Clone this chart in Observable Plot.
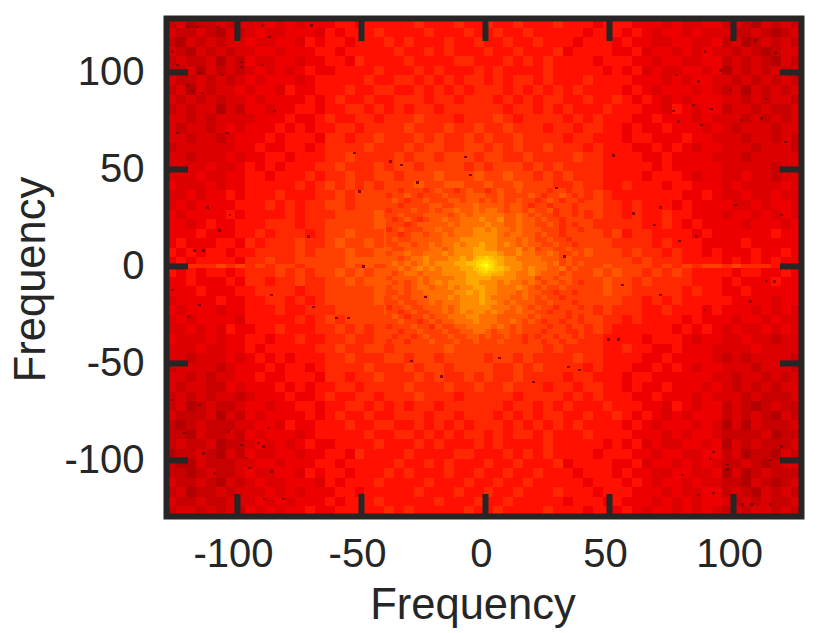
<!DOCTYPE html>
<html><head><meta charset="utf-8">
<script src="https://cdn.jsdelivr.net/npm/d3@7"></script>
<script src="https://cdn.jsdelivr.net/npm/@observablehq/plot@0.6"></script>
<style>html,body{margin:0;padding:0;background:#fff}svg{display:block}</style>
</head><body><div id="c"></div>
<script>
// spectrum levels, hex digit per block, top row first
const gridRows = [
"56455656 66767677 78878888 89888988 98898889 88878887 77676677 56546565",
"65565465 67667776 87888988 88988898 89889888 88788878 76776766 65565456",
"54656566 76677687 88788898 98889889 88988988 87888787 76677667 56456565",
"65465656 67767778 87888889 88989888 98898889 78888778 67767676 65654566",
"56556465 76677677 88798888 98888998 88989898 88878887 76776677 56565465",
"55646565 67676787 78888988 89898889 89888898 88887878 67667767 46565656",
"65565656 76777678 88889889 98989899 89899898 88988887 77676776 65656565",
"56465667 67768778 88988998 89898989 99898989 89888878 76777676 56465656",
"65656566 76777787 89889889 99899899 98989899 88988987 87676777 66565665",
"56566465 77677887 88998989 89989999 99899898 98889888 77687677 56656556",
"66565666 67778778 98899899 9a999899 9a989999 89898887 78777676 66565656",
"65665676 77787878 89989999 a999a99a 99a99989 98998878 77877767 65666566",
"66566567 77878887 99899a99 9a9a99a9 a99a9999 89988878 87778776 66566565",
"56666667 78778878 9999a999 a9aa99aa 9a9a99a9 99898887 78787677 66656665",
"66566676 77887888 99a9999a 9aa9aaa9 aa99a999 9a998888 77877776 66566666",
"66667667 87878889 9a999a9a a9aaaa9a 9aaa9a9a 99998888 87877777 66666566",
"66676677 88788898 99a99aa9 aaabaaab aabaa9a9 a9998888 78887677 66766566",
"76667677 88888989 a9a9a9aa abaabbaa baabaaa9 9a998898 88788777 67666676",
"66767787 88898889 9a9aaaaa aabbabbb abbaabaa 9a9a9888 88887787 66766766",
"67677778 88989899 aa9aaaab abbbbbab bbbabaaa a9aa9989 88878777 76676776",
"76777787 88889899 9aaaabab bbbbcbbb bcbbbaaa aa9a9989 88988777 67767676",
"77678778 88999899 aaaaabbb abbcbccb bcbcbbaa aaa99999 88987877 77677767",
"77787778 89899989 aabaaabb bbcbccbc cbccbbab aaaa9a89 98888787 77777877",
"78777887 98999a99 abaababb bccbcccd ccbccbbb aaaaa999 98988877 77877777",
"87878878 89999a9a aabaabbc bcccccdd cdccccbb babaaa9a 99898878 77787787",
"78788887 99a99aaa aabbbbbc ccccddde edccccbc bbaaaaa9 a9998888 78787877",
"87878878 999a9a9a abababbc cccdddde edddcccb bbababaa 9a9a9888 87887787",
"77877787 99899a99 aababbbc bcccccdd ddcccccb bbaabaa9 a9999888 78777877",
"77787778 89999899 aaaaabbb bccbccbc ccbcbcbb baaabaa9 99998988 77877777",
"67777877 88998989 aaaaabab bbbcbccb cbbcbbab abaaaa99 89898888 87777677",
"76777677 88898899 9aaaaabb bbbbbcbb bbbbbbaa aaa9a999 88988878 77767676",
"67677776 88888989 a9aaaaab abbbbbbb bbbabaaa a9aa9989 88887877 76776766",
"66767687 78898889 9a9a9aaa aabbabba babbaaaa 9a9a9888 88878787 67667676",
"76667677 88788988 99a99aaa aabaabba aabaa9a9 a9998888 78887677 66766566",
"66676677 87888889 9a99aa9a aaaabaaa aaaaaa9a 99998898 87787776 66676666",
"66566676 78787888 99a999aa 9aa9aaaa 9aa9a999 9a998888 77877776 56566665",
"56666567 77878878 9999a999 a9aa9aaa a99a9a99 99898887 78787677 66656665",
"66565667 78778887 99899a99 9a9a99a9 a99a9999 89988878 87777776 65665656",
"65665576 77787878 89989999 a999a99a 99a99989 98998878 77877767 65656566",
"56565665 67778778 98899899 9a999899 99989999 89898887 78777676 66565556",
"56456556 77677887 88998989 89989999 99899898 98889888 77687677 56545655",
"65556465 76777787 89889889 99899899 98989899 88988987 87676777 56565465",
"54565556 67768778 88988998 89898989 99898989 89888878 76777676 46465556",
"55465565 76777678 88889889 98989899 89899898 88988887 77676776 55556455",
"56556455 67676787 78888988 89898889 89888898 88887878 67667767 46565556",
"45565465 76677677 88798888 98888998 88989898 88878887 76776677 56455465",
"54465556 67767778 87888889 88989888 98898889 78888778 67767676 55654566",
"55456556 76677687 88788898 98889889 88988988 87888787 76677667 46456555",
"65565465 67667776 87888988 88988898 89889888 88788878 76776766 55465456",
"56455656 66767677 78878888 89888988 98898889 88878887 77676677 56546565",
"65565566 67676777 87888988 88898889 88988888 78887877 76767677 65656556",
"56656565 76767787 78888898 98888898 89888898 88788787 67767676 56566565"
];
// finer blocks for the central part of the spectrum, top row first
const midRows = [
"aa9aaa9a baa9abaa 9abaabaa aa9aa9aa",
"9aaba9aa abaaabbb aabaaaab a9aaba9a",
"aba9aaba aabbabba babaabaa 9aba9aa9",
"aa9aaaab baabbbcb bbbabba9 aa9aaa9a",
"9aaabaab abbcbbcb ccbabbab aab9aa9a",
"aabaaabb bbabcbcc cccbbcba baa9aa9a",
"a9aba9ab bcbbcccd ccdbbcbb abaa9aaa",
"aaa9abbb bbcbcccc dccbbcbb aaba9a9a",
"9abaaabb cbbcccdd cdccbcbb baaa9aa9",
"aa9abbab bcbcccdd ddcbccbb abaa9aaa",
"abaabbbb bcccdddd ddcccbcb aabaa9aa",
"aabbabbc bccdcdde ddcdcbcb baabaa9a",
"baabbbbc cbcdddee ddcccdbc abbaabaa",
"abbcbbcc cdcdddee eedccdcc bbcbaaba",
"bbabccdc ccddedef eeeddccc cbbbabaa",
"bcbcbcdc dddeefgh ffedddcc ccbcabab",
"bbcbcdcd cdddeefg hgfeddcd ccbbcaba",
"babccbcc cddddeef feeddccd cbbbabaa",
"abbbbcbc cccddeee eddddccc abbabbaa",
"bababcbc dcdddeed ddcdccbc babbaba9",
"abbabccb ccdcddee ddcccdcb abaabaaa",
"aababbcc cccddede ddcccbcb baa9aa9a",
"abaabbbc ccdcddde dcccbbcb abaa9aaa",
"aabaabbc bcccddde ddcbcbbb aabaaa9a",
"9aabaabb bcbcdddd dcccbcba baa9aaa9",
"aa9abaab bcbcdcdd cdcbbcbb aa9aa9aa",
"aba9aaba bbcccddc ccbbbbba baaaa9a9",
"aabaa9ab abbcccdc ccbbcbab a9aa9aa9",
"9aaabaa9 baabbccc cbcbabaa aa9aa9aa",
"aa9aabaa abaabbcc babbabaa a9aaa99a",
"a9aa9aba aabaabba baabaa9a 9aa9aa9a",
"9aa9aaab aaabaaba aabaaa9a a9aa9aa9"
];
// brightest blocks at the origin, top row first
const coreRows = [
[14,15,15,15,16,15,15,14],
[15,15,16,16,16,16,15,15],
[15,16,16,17,17,16,16,15],
[15,16,17,18,19,17,16,15],
[15,16,16,17,18,17,16,15],
[15,15,16,16,17,16,16,15],
[14,15,15,16,16,15,15,15],
[14,14,15,15,15,15,14,14]
];
// thin bright line along zero vertical frequency, one level per block
const streak = "8 8 9 9 9 a 9 a 9 a 9 a a 9 a a a a b a b a a b b b b c c c c d d c c c c b b a b b a a b a a a a 9 a 9 a 9 a a 9 a 9 9 9 8 8 8".split(" ");
// dark specks seen in the picture, frequency coordinates
const speckX = [-120,-116,-108,-124,-126,-115,-106,-98,-98,-89.5,-85,-120,-104,-124,-118,-114,-87,-89.5,-70,
  119.6,91,97.6,97.6,79.7,115,86,92,104,115,107.5,92,105.5,
  -52.8,-38,-33.6,-50.4,-27.4,-8,-6,51.8,29,-49,-60,-55,-24,49.7,53.7,38,33.6,-17.5,-29.6,19.5,6,32,55.6,59.8,
  108.9,94.8,86,98.8,113.6,91.4,84,75.9,78,111.6,121,87.4,103.5,77.3,88.7,117,
  -87.3,-91.4,-98,-113.6,-121,-86,-94.8,-109,-89.4,-81.4,-96,-88.7,-103.5,-126,-115,
  -117.3,-113.6,-71.3,-107,-126,-86,-69.3,-112,-102.8,-115,-119.6,
  70.8,85.3,68.5,116.9,113.6,70.8,106.9,100.8,88.7,78.4,119.6];
const speckY = [123.4,123,123,103.6,110.5,99.5,98.5,105,102.7,103.6,80,93,68.6,68.6,90,89,118,124,124,
  -93,-99.6,-102.6,-105,-107.7,-100,-118,-117,-123,-123,-123,-96,-98,
  58.2,53.8,52,38.3,43,56,47,57,40,-0.3,-27,-27,-16,-38,-38,-53.6,-52,-57,-49,-60,-47.5,4.8,-10,27,
  116.2,100.7,95,90.7,86,81,83,80,74.4,76,64,72.7,75.3,98.4,110.5,109.6,
  -83.7,-91.4,-92.2,-96.6,-86,-106,-104.3,-107,-93,-120,-99,-120,-85.4,-69,-71.6,
  7.9,7.9,15.1,18.2,-12.3,-15,-21.3,30.2,26.3,-20,-26,
  30.2,15.1,21.1,-8,-7.7,-14.9,-18.4,31.4,-22.7,13,26.3];
const speckLevel = 2;
const xTicks = [-100,-50,0,50,100];
const yTicks = [-100,-50,0,50,100];
const xDomain = [-128.6,127.4];
const yDomain = [-128.9,127.8];
const midSpan = 40;
const coreSpan = 5;

const cells = [];
gridRows.forEach((row,r)=>{
  const s = row.replace(/ /g,"");
  const h = (yDomain[1]-yDomain[0])/gridRows.length;
  [...s].forEach((ch,c)=>{
    const w = (xDomain[1]-xDomain[0])/s.length;
    cells.push({x1:xDomain[0]+c*w,x2:xDomain[0]+(c+1)*w,y1:yDomain[1]-(r+1)*h,y2:yDomain[1]-r*h,v:parseInt(ch,16)});
  });
});
const streakCells = streak.map((ch,c)=>{
  const w = (xDomain[1]-xDomain[0])/streak.length;
  return {x1:xDomain[0]+c*w,x2:xDomain[0]+(c+1)*w,y1:-1.2,y2:1.2,v:parseInt(ch,16)};
});
const midCells = [];
midRows.forEach((row,r)=>{
  const s = row.replace(/ /g,"");
  const w = 2*midSpan/s.length, h = 2*midSpan/midRows.length;
  [...s].forEach((ch,c)=>midCells.push({x1:-midSpan+c*w,x2:-midSpan+(c+1)*w,y1:midSpan-(r+1)*h,y2:midSpan-r*h,v:parseInt(ch,36)}));
});
const coreCells = [];
coreRows.forEach((row,r)=>row.forEach((v,c)=>{
  const w = 2*coreSpan/row.length, h = 2*coreSpan/coreRows.length;
  coreCells.push({x1:-coreSpan+c*w,x2:-coreSpan+(c+1)*w,y1:coreSpan-(r+1)*h,y2:coreSpan-r*h,v});
}));
const speckCells = speckX.map((x,i)=>({x1:x-0.6,x2:x+0.6,y1:speckY[i]-0.6,y2:speckY[i]+0.6,v:speckLevel}));
const ink = "#262626";
const font = "'Liberation Sans', Arial, sans-serif";
const rectOpts = {x1:"x1",x2:"x2",y1:"y1",y2:"y2",fill:"v",shapeRendering:"crispEdges"};
const noText = () => "";
const chart = Plot.plot({
  width:830,height:633,
  marginLeft:166,marginRight:29,marginTop:18,marginBottom:117,
  style:{fontFamily:font,background:"#fff"},
  x:{domain:xDomain},
  y:{domain:yDomain},
  color:{type:"linear",
    domain:[0,2,4,6,7,8,9,10,11,12,13,14,15,16,17,18,19],
    range:["#500000","#8a0000","#b40000","#dc0000","#ee0000","#ff1000","#ff2800","#ff4000","#ff5800","#ff7000","#ff8c00","#ffa800","#ffc000","#ffd800","#ffec00","#fff800","#ffff60"]},
  marks:[
    Plot.rect(cells,rectOpts),
    Plot.rect(streakCells,rectOpts),
    Plot.rect(midCells,rectOpts),
    Plot.rect(coreCells,rectOpts),
    Plot.rect(speckCells,rectOpts),
    Plot.frame({stroke:ink,strokeWidth:6}),
    Plot.axisX({anchor:"bottom",ticks:xTicks,tickSize:-22,strokeWidth:6,stroke:ink,tickFormat:noText,label:null}),
    Plot.axisX({anchor:"top",ticks:xTicks,tickSize:-22,strokeWidth:6,stroke:ink,tickFormat:noText,label:null}),
    Plot.axisY({anchor:"left",ticks:yTicks,tickSize:-22,strokeWidth:6,stroke:ink,tickFormat:noText,label:null}),
    Plot.axisY({anchor:"right",ticks:yTicks,tickSize:-22,strokeWidth:6,stroke:ink,tickFormat:noText,label:null}),
    Plot.axisX({anchor:"bottom",ticks:xTicks,tickSize:0,tickPadding:22,fontSize:40,fill:ink,dx:-4,tickFormat:d=>String(d),label:null}),
    Plot.axisY({anchor:"left",ticks:yTicks,tickSize:0,tickPadding:22,fontSize:40,fill:ink,tickFormat:d=>String(d),label:null}),
    Plot.text(["Frequency"],{frameAnchor:"bottom",dx:-11,dy:102,fontSize:43.5,fill:ink}),
    Plot.text(["Frequency"],{frameAnchor:"left",textAnchor:"middle",rotate:-90,dx:-135,dy:12,fontSize:43.5,fill:ink})
  ]
});
document.getElementById("c").appendChild(chart);
</script></body></html>
